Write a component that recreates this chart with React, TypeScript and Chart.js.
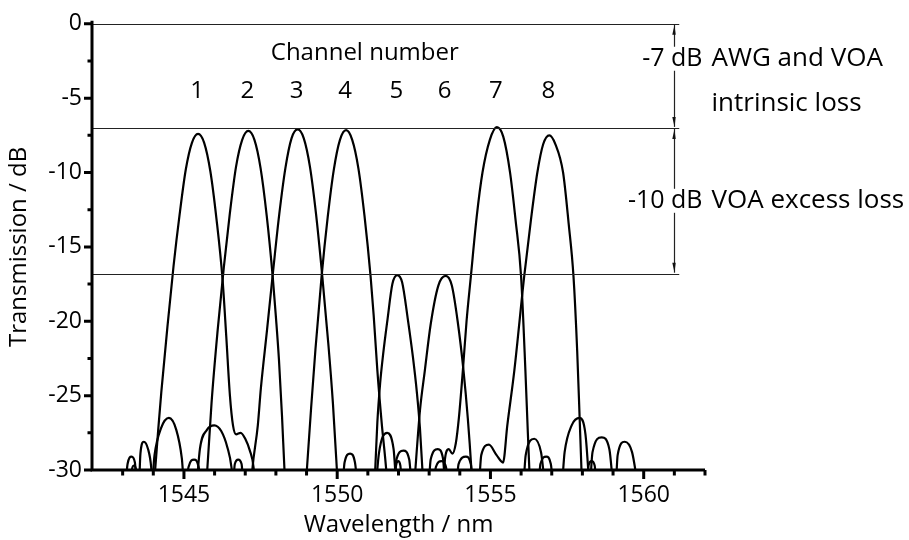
import { useEffect, useRef } from "react";
import { Chart, registerables } from "chart.js";

Chart.register(...registerables);

type Pt = [number, number];

// Channel labels and the wavelength of each channel's passband peak (nm)
const channelNumbers = ["1", "2", "3", "4", "5", "6", "7", "8"];
const channelCenters = [1545.46, 1547.1, 1548.71, 1550.29, 1551.96, 1553.54, 1555.21, 1556.92];

// Axis ticks
const xMajorTicks = [1545, 1550, 1555, 1560];
const yMajorTicks = [0, -5, -10, -15, -20, -25, -30];

// Loss levels marked by the horizontal reference lines (dB)
const refLevels = [0, -7, -16.8];
const lossLabels = ["-7 dB", "-10 dB"];
const lossNotes = [["AWG and VOA", "intrinsic loss"], ["VOA excess loss"]];

// Measured transmission spectra, [wavelength nm, transmission dB]
const ch1: Pt[] = [
  [1543.08, -31.5], [1543.16, -29.6], [1543.29, -29.1], [1543.4, -29.5], [1543.47, -31.5],
  [1543.52, -31.5], [1543.58, -28.9], [1543.69, -28.1], [1543.83, -28.6], [1543.93, -29.8], [1543.98, -31.5],
  [1544.02, -31.0], [1544.06, -30.0], [1544.16, -27.3], [1544.26, -24.8], [1544.46, -20.4], [1544.66, -16.3],
  [1544.86, -12.8], [1545.06, -9.8], [1545.26, -8.0], [1545.46, -7.4], [1545.66, -8.0], [1545.86, -9.9],
  [1546.06, -13.1], [1546.26, -17.2], [1546.38, -21.0], [1546.5, -25.0], [1546.6, -27.0], [1546.7, -27.6],
  [1546.85, -27.5], [1547.0, -27.9], [1547.15, -28.7], [1547.27, -29.8], [1547.33, -31.5],
];

const ch2: Pt[] = [
  [1543.25, -31.5], [1543.31, -29.9], [1543.37, -29.7], [1543.43, -29.9], [1543.49, -31.5],
  [1543.93, -31.5], [1544.04, -29.0], [1544.25, -27.2], [1544.51, -26.5], [1544.75, -27.3], [1544.93, -29.2], [1545.03, -31.5],
  [1545.7, -31.5], [1545.76, -30.0], [1545.9, -25.5], [1546.1, -20.6], [1546.3, -16.4], [1546.5, -12.7],
  [1546.7, -9.6], [1546.9, -7.8], [1547.1, -7.2], [1547.3, -7.8], [1547.5, -9.7], [1547.7, -12.9],
  [1547.9, -17.1], [1548.0, -19.7], [1548.1, -22.6], [1548.2, -26.4], [1548.28, -30.0], [1548.32, -31.5],
];

const ch3: Pt[] = [
  [1545.05, -31.5], [1545.15, -29.8], [1545.33, -29.3], [1545.48, -29.8], [1545.58, -31.5],
  [1546.58, -31.5], [1546.66, -29.6], [1546.77, -29.3], [1546.88, -29.6], [1546.96, -31.5],
  [1547.18, -31.5], [1547.23, -30.0], [1547.41, -27.0], [1547.51, -24.5], [1547.71, -20.6], [1547.91, -16.6],
  [1548.11, -12.8], [1548.31, -9.7], [1548.51, -7.7], [1548.71, -7.1], [1548.91, -7.7], [1549.11, -9.6],
  [1549.31, -12.8], [1549.51, -16.9], [1549.71, -21.5], [1549.86, -25.5], [1549.99, -30.0], [1550.03, -31.5],
  [1550.15, -31.5], [1550.24, -29.5], [1550.42, -28.9], [1550.58, -29.5], [1550.68, -31.5],
];

const ch4: Pt[] = [
  [1545.4, -31.5], [1545.52, -28.6], [1545.75, -27.3], [1545.99, -27.0], [1546.22, -27.4], [1546.42, -28.5],
  [1546.55, -29.8], [1546.62, -31.5],
  [1548.96, -31.5], [1549.01, -30.0], [1549.15, -25.8], [1549.29, -21.9], [1549.49, -17.0], [1549.69, -13.0],
  [1549.89, -9.8], [1550.09, -7.8], [1550.29, -7.15], [1550.49, -7.8], [1550.69, -9.7], [1550.89, -12.9],
  [1551.09, -17.0], [1551.19, -19.6], [1551.31, -23.3], [1551.45, -26.8], [1551.6, -30.0], [1551.65, -31.5],
  [1551.86, -31.5], [1551.92, -29.7], [1551.99, -29.4], [1552.06, -29.7], [1552.12, -31.5],
];

const ch5: Pt[] = [
  [1551.2, -31.5], [1551.24, -30.0], [1551.31, -26.8], [1551.4, -24.2], [1551.5, -22.2], [1551.64, -19.9],
  [1551.8, -17.5], [1551.96, -16.9], [1552.12, -17.4], [1552.3, -19.8], [1552.47, -22.4], [1552.6, -24.8],
  [1552.7, -27.2], [1552.78, -30.0], [1552.82, -31.5],
  [1552.96, -31.5], [1553.05, -29.3], [1553.28, -28.6], [1553.45, -29.2], [1553.55, -31.5],
  [1556.55, -31.5], [1556.63, -29.6], [1556.82, -29.1], [1556.97, -29.6], [1557.06, -31.5],
];

const ch6: Pt[] = [
  [1551.25, -31.5], [1551.36, -28.9], [1551.63, -27.5], [1551.84, -28.6], [1551.96, -31.5],
  [1552.5, -31.5], [1552.55, -30.0], [1552.7, -26.0], [1552.86, -23.3], [1553.05, -20.2], [1553.3, -17.6],
  [1553.54, -16.95], [1553.74, -17.6], [1553.93, -20.0], [1554.12, -23.3], [1554.26, -26.5], [1554.38, -30.0],
  [1554.42, -31.5],
  [1556.05, -31.5], [1556.15, -29.0], [1556.43, -27.9], [1556.65, -28.8], [1556.83, -31.5],
  [1558.12, -31.5], [1558.2, -29.7], [1558.3, -29.4], [1558.4, -29.7], [1558.47, -31.5],
];

const ch7: Pt[] = [
  [1551.82, -31.5], [1551.92, -29.4], [1552.16, -28.7], [1552.35, -29.3], [1552.46, -31.5],
  [1553.44, -31.5], [1553.52, -29.2], [1553.64, -28.6], [1553.76, -28.9], [1553.87, -28.2], [1553.97, -26.5],
  [1554.1, -23.3], [1554.22, -20.0], [1554.36, -17.0], [1554.55, -13.0], [1554.74, -10.0], [1554.98, -7.8],
  [1555.21, -6.95], [1555.42, -7.6], [1555.64, -10.0], [1555.82, -13.2], [1556.0, -17.0], [1556.14, -23.3],
  [1556.22, -27.5], [1556.27, -30.0], [1556.3, -31.5],
  [1557.3, -31.5], [1557.42, -28.8], [1557.65, -27.0], [1557.91, -26.5], [1558.1, -27.6], [1558.24, -31.5],
];

const ch8: Pt[] = [
  [1553.13, -31.5], [1553.22, -29.8], [1553.4, -29.4], [1553.55, -29.8], [1553.64, -31.5],
  [1553.86, -31.5], [1553.96, -29.6], [1554.2, -29.1], [1554.36, -29.6], [1554.44, -31.5],
  [1554.6, -31.5], [1554.7, -29.0], [1554.95, -28.3], [1555.2, -29.0], [1555.41, -29.5], [1555.55, -27.0],
  [1555.78, -23.3], [1556.1, -17.0], [1556.32, -13.2], [1556.53, -10.0], [1556.72, -8.1], [1556.92, -7.5],
  [1557.12, -8.1], [1557.37, -10.0], [1557.55, -13.4], [1557.71, -17.0], [1557.83, -22.0], [1557.91, -26.5],
  [1557.97, -30.0], [1558.0, -31.5],
  [1558.22, -31.5], [1558.33, -28.8], [1558.63, -27.8], [1558.88, -28.6], [1559.05, -31.5],
  [1559.07, -31.5], [1559.15, -29.0], [1559.38, -28.1], [1559.62, -28.8], [1559.84, -31.5],
];

const spectra = [ch1, ch2, ch3, ch4, ch5, ch6, ch7, ch8];

const FONT = "'Open Sans', 'Noto Sans', sans-serif";

// Where the loss dimension arrows sit, and where the reference lines stop (nm)
const arrowAt = 1561.0;
const refLineEnd = 1561.16;

const overlay = {
  id: "overlay",
  afterDatasetsDraw(chart: any) {
    const { ctx, chartArea, scales } = chart;
    const x = scales.x;
    const y = scales.y;
    ctx.save();

    // Horizontal reference lines
    ctx.strokeStyle = "#222";
    ctx.lineWidth = 1.2;
    const xEnd = x.getPixelForValue(refLineEnd);
    refLevels.forEach((v) => {
      const py = Math.round(y.getPixelForValue(v)) + 0.5;
      ctx.beginPath();
      ctx.moveTo(chartArea.left, py);
      ctx.lineTo(xEnd, py);
      ctx.stroke();
    });

    // Dimension arrows between the reference lines
    const ax = Math.round(x.getPixelForValue(arrowAt)) + 0.5;
    const head = (tipY: number, dir: number) => {
      ctx.beginPath();
      ctx.moveTo(ax, tipY);
      ctx.lineTo(ax - 2.2, tipY + dir * 10);
      ctx.lineTo(ax + 1.2, tipY + dir * 10);
      ctx.closePath();
      ctx.fill();
    };
    ctx.fillStyle = "#111";
    for (let i = 0; i < refLevels.length - 1; i++) {
      const y0 = y.getPixelForValue(refLevels[i]) + 1;
      const y1 = y.getPixelForValue(refLevels[i + 1]) - 1;
      ctx.beginPath();
      ctx.moveTo(ax, y0);
      ctx.lineTo(ax, y1);
      ctx.stroke();
      head(y0, 1);
      head(y1, -1);
    }

    // Loss annotations
    ctx.font = `26px ${FONT}`;
    ctx.textBaseline = "middle";
    const labelY = [y.getPixelForValue(-2.35), y.getPixelForValue(-11.9)];
    lossLabels.forEach((t, i) => {
      const right = ax + 28;
      ctx.font = `25px ${FONT}`;
      const w = ctx.measureText(t).width;
      ctx.fillStyle = "#fff";
      ctx.fillRect(right - w - 2, labelY[i] - 12, w + 4, 24);
      ctx.fillStyle = "#000";
      ctx.textAlign = "right";
      ctx.fillText(t, right, labelY[i]);
      ctx.font = `26px ${FONT}`;
      ctx.textAlign = "left";
      lossNotes[i].forEach((n, j) => {
        ctx.fillText(n, ax + 37, labelY[i] + j * 45);
      });
    });

    // Channel numbers above each passband
    ctx.font = `24px ${FONT}`;
    ctx.textAlign = "center";
    ctx.fillStyle = "#000";
    ctx.fillText("Channel number", x.getPixelForValue(1550.9), y.getPixelForValue(-1.95));
    channelNumbers.forEach((n, i) => {
      ctx.fillText(n, x.getPixelForValue(channelCenters[i]) - 1, y.getPixelForValue(-4.55));
    });

    // Axis lines and tick marks
    const left = chartArea.left;
    const bottom = chartArea.bottom;
    ctx.strokeStyle = "#000";
    ctx.lineWidth = 3;
    ctx.beginPath();
    ctx.moveTo(left, chartArea.top - 3);
    ctx.lineTo(left, bottom + 1.5);
    ctx.moveTo(left - 1.5, bottom);
    ctx.lineTo(chartArea.right, bottom);
    ctx.stroke();

    ctx.beginPath();
    for (let v = y.min; v <= y.max + 1e-6; v += 2.5) {
      const py = y.getPixelForValue(v);
      const major = yMajorTicks.includes(v);
      ctx.moveTo(left, py);
      ctx.lineTo(left - (major ? 8 : 4.5), py);
    }
    for (let v = x.min + 1; v <= x.max + 1e-6; v += 1) {
      const px = x.getPixelForValue(v);
      const major = xMajorTicks.includes(v);
      ctx.moveTo(px, bottom);
      ctx.lineTo(px, bottom + (major ? 9 : 5.5));
    }
    ctx.stroke();

    ctx.restore();
  },
};

export default function App() {
  const canvasRef = useRef<HTMLCanvasElement | null>(null);

  useEffect(() => {
    const canvas = canvasRef.current;
    if (!canvas) return;
    const chart = new Chart(canvas, {
      type: "line",
      data: {
        datasets: spectra.map((s, i) => ({
          label: `Channel ${channelNumbers[i]}`,
          data: s.map(([x, y]) => ({ x, y })),
          borderColor: "#000",
          borderWidth: 2.2,
          pointRadius: 0,
          fill: false,
          cubicInterpolationMode: "monotone" as const,
          clip: { left: 0, right: 0, top: 5, bottom: 0 },
        })),
      },
      options: {
        animation: false,
        responsive: false,
        devicePixelRatio: 1,
        layout: { padding: { top: 20, right: 204, bottom: 0, left: 0 } },
        plugins: { legend: { display: false }, tooltip: { enabled: false } },
        scales: {
          x: {
            type: "linear",
            min: 1542,
            max: 1562,
            grid: { display: false, drawTicks: false },
            border: { display: false },
            afterBuildTicks: (s: any) => {
              s.ticks = xMajorTicks.map((v) => ({ value: v }));
            },
            afterFit: (s: any) => {
              s.height = 70;
            },
            ticks: {
              color: "#000",
              font: { family: FONT, size: 23 },
              padding: 12,
              maxRotation: 0,
              autoSkip: false,
              callback: (v: any) => String(v),
            },
            title: {
              display: true,
              text: "Wavelength / nm",
              color: "#000",
              font: { family: FONT, size: 24 },
              padding: { top: 0, bottom: 0 },
            },
          },
          y: {
            type: "linear",
            min: -30,
            max: 0,
            grid: { display: false, drawTicks: false },
            border: { display: false },
            afterBuildTicks: (s: any) => {
              s.ticks = yMajorTicks.map((v) => ({ value: v }));
            },
            afterFit: (s: any) => {
              s.width = 92;
            },
            ticks: {
              color: "#000",
              font: { family: FONT, size: 23 },
              padding: 10,
              callback: (v: any) => String(v),
            },
            title: {
              display: true,
              text: "Transmission / dB",
              color: "#000",
              font: { family: FONT, size: 24 },
              padding: { top: 5, bottom: 0 },
            },
          },
        },
      },
      plugins: [overlay],
    });
    return () => chart.destroy();
  }, []);

  return (
    <div style={{ position: "absolute", left: 0, top: 0, width: 909, height: 540, background: "#fff" }}>
      <canvas ref={canvasRef} width={909} height={540} style={{ display: "block" }} />
    </div>
  );
}
